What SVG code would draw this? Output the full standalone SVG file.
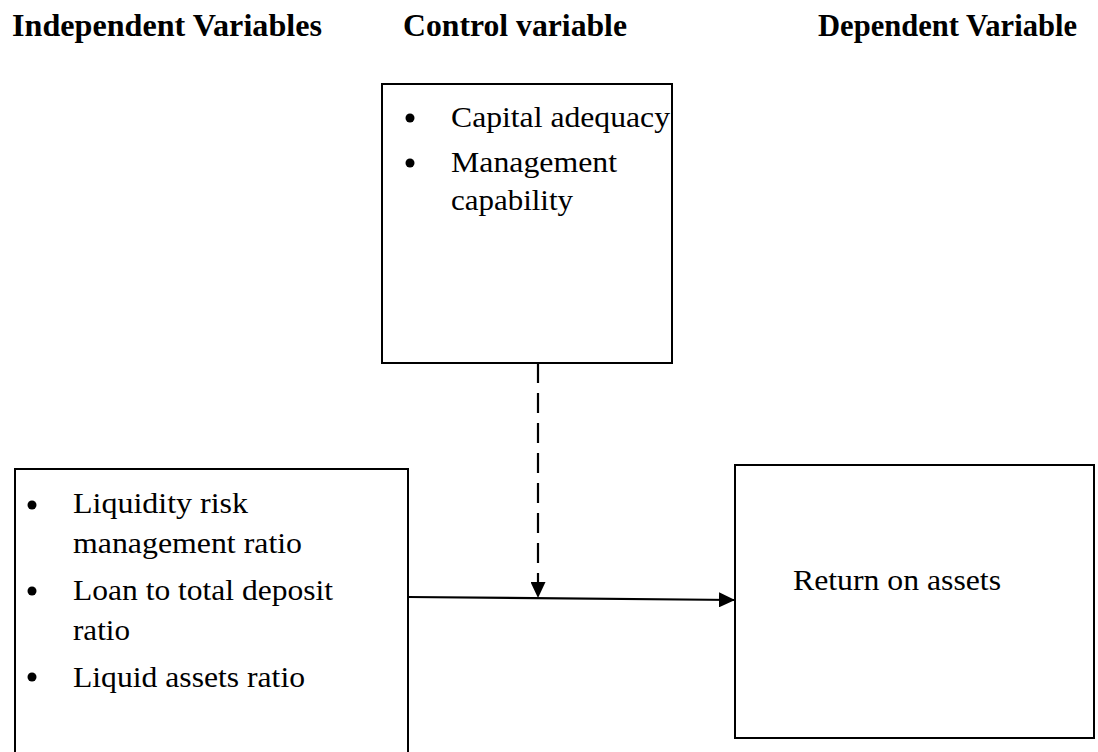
<svg xmlns="http://www.w3.org/2000/svg" width="1098" height="752" viewBox="0 0 1098 752">
<style>
.box{fill:#fff;stroke:#000;stroke-width:2}
.hd{font-family:"Liberation Serif","Times New Roman",serif;font-weight:bold;font-size:31px;fill:#000}
.tx{font-family:"Liberation Serif","Times New Roman",serif;font-size:30px;fill:#000}
.ln{stroke:#000;stroke-width:2.2;fill:none}
</style>
<defs>
<marker id="ah" viewBox="0 0 10 10" refX="10" refY="5" markerWidth="16" markerHeight="15" markerUnits="userSpaceOnUse" orient="auto" preserveAspectRatio="none">
<path d="M0,0 L10,5 L0,10 z" fill="#000"/>
</marker>
</defs>
<rect width="1098" height="752" fill="#fff"/>
<g id="headers">
<text class="hd" x="12" y="36" textLength="310" lengthAdjust="spacingAndGlyphs">Independent Variables</text>
<text class="hd" x="403" y="36" textLength="224" lengthAdjust="spacingAndGlyphs">Control variable</text>
<text class="hd" x="818" y="36" textLength="259" lengthAdjust="spacingAndGlyphs">Dependent Variable</text>
</g>
<g id="control">
<rect class="box" x="382" y="84" width="290" height="279"/>
<circle cx="410" cy="118" r="4.5"/>
<circle cx="410" cy="163" r="4.5"/>
<text class="tx" x="451" y="127" textLength="219" lengthAdjust="spacingAndGlyphs">Capital adequacy</text>
<text class="tx" x="451" y="172" textLength="166" lengthAdjust="spacingAndGlyphs">Management</text>
<text class="tx" x="451" y="210" textLength="122" lengthAdjust="spacingAndGlyphs">capability</text>
</g>
<g id="independent">
<rect class="box" x="15" y="469" width="393" height="300"/>
<circle cx="32" cy="505" r="4.5"/>
<circle cx="32" cy="591" r="4.5"/>
<circle cx="32" cy="677" r="4.5"/>
<text class="tx" x="73" y="513" textLength="175" lengthAdjust="spacingAndGlyphs">Liquidity risk</text>
<text class="tx" x="73" y="553" textLength="229" lengthAdjust="spacingAndGlyphs">management ratio</text>
<text class="tx" x="73" y="600" textLength="260" lengthAdjust="spacingAndGlyphs">Loan to total deposit</text>
<text class="tx" x="73" y="640" textLength="57" lengthAdjust="spacingAndGlyphs">ratio</text>
<text class="tx" x="73" y="687" textLength="232" lengthAdjust="spacingAndGlyphs">Liquid assets ratio</text>
</g>
<g id="dependent">
<rect class="box" x="735" y="465" width="359" height="273"/>
<text class="tx" x="793" y="590" textLength="208" lengthAdjust="spacingAndGlyphs">Return on assets</text>
</g>
<g id="connectors">
<line class="ln" x1="538" y1="363" x2="538" y2="598" stroke-dasharray="20,10" marker-end="url(#ah)"/>
<line class="ln" x1="408" y1="597" x2="735" y2="600" marker-end="url(#ah)"/>
</g>
</svg>
